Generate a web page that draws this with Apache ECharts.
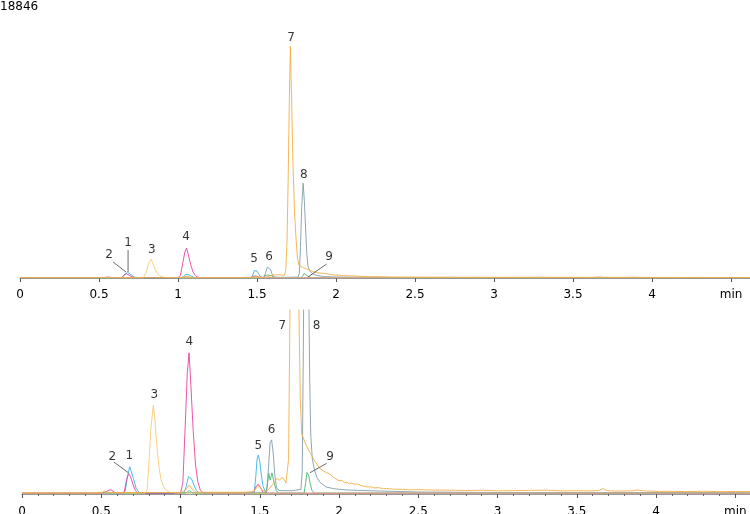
<!DOCTYPE html>
<html>
<head>
<meta charset="utf-8">
<script src="https://cdn.jsdelivr.net/npm/echarts@6/dist/echarts.min.js"></script>
<style>
html,body{margin:0;padding:0;background:#fff;}
#chart{width:750px;height:514px;}
</style>
</head>
<body>
<div id="chart"></div>
<script>
// ---- data (time in min, intensity in counts) ----
const yMaxLabel = '18846';
const xTickLabels = ['0','0.5','1','1.5','2','2.5','3','3.5','4','min'];

const traceMagenta = [[0,10],[0.50,10],[0.53,40],[0.56,75],[0.59,20],[0.63,15],[0.645,40],[0.66,250],[0.673,350],[0.685,300],[0.70,170],[0.715,60],[0.73,20],[0.80,12],[1.0,15],[1.015,200],[1.03,1200],[1.043,2100],[1.054,2440],[1.065,1900],[1.08,1100],[1.095,500],[1.11,200],[1.125,70],[1.14,25],[1.20,15],[1.40,15],[1.46,25],[1.475,120],[1.49,170],[1.505,110],[1.52,30],[1.55,15],[1.7,12],[2.0,12],[2.5,15],[3.0,18],[3.5,15],[4.0,18],[4.62,15]];

const traceCyan = [[0,8],[0.64,8],[0.652,60],[0.665,300],[0.68,470],[0.69,440],[0.705,250],[0.72,100],[0.74,20],[0.8,8],[1.02,8],[1.035,120],[1.05,300],[1.058,330],[1.07,260],[1.085,150],[1.10,60],[1.12,15],[1.4,10],[1.465,20],[1.475,300],[1.483,600],[1.491,675],[1.50,560],[1.51,330],[1.52,140],[1.535,40],[1.56,12],[4.62,10]];

const traceGrey = [[0,22],[1.0,22],[1.53,25],[1.545,80],[1.555,450],[1.565,880],[1.575,935],[1.585,700],[1.595,330],[1.605,120],[1.62,60],[1.70,55],[1.76,80],[1.768,400],[1.775,2500],[1.783,5800],[1.792,7700],[1.800,6200],[1.808,3900],[1.815,2000],[1.822,1000],[1.832,600],[1.845,420],[1.86,290],[1.88,200],[1.92,120],[1.97,90],[2.05,70],[2.2,55],[2.5,35],[3.0,25],[4.62,22]];

const traceGreen = [[0,10],[1.03,10],[1.055,60],[1.08,10],[1.54,10],[1.55,200],[1.557,355],[1.566,240],[1.577,365],[1.59,200],[1.605,60],[1.62,15],[1.78,15],[1.79,200],[1.798,370],[1.808,330],[1.818,180],[1.83,60],[1.845,15],[4.62,10]];

const traceYellow = [[0,15],[0.78,15],[0.79,80],[0.80,500],[0.812,1100],[0.828,1530],[0.838,1300],[0.85,850],[0.865,450],[0.88,220],[0.90,90],[0.93,30],[0.98,15],[4.62,15]];

const traceOrange = [[0,20],[0.50,20],[0.52,50],[0.54,25],[1.00,25],[1.03,60],[1.055,155],[1.075,80],[1.10,30],[1.40,30],[1.46,40],[1.48,110],[1.495,140],[1.51,80],[1.53,50],[1.55,60],[1.57,120],[1.59,200],[1.61,270],[1.625,240],[1.64,290],[1.655,250],[1.665,190],[1.672,200],[1.682,600],[1.690,3000],[1.697,8000],[1.704,14000],[1.711,18846],[1.719,14500],[1.728,9000],[1.738,5200],[1.748,3000],[1.756,1600],[1.765,1040],[1.78,930],[1.795,830],[1.806,815],[1.82,700],[1.84,600],[1.859,520],[1.88,440],[1.90,400],[1.92,370],[1.943,345],[1.96,300],[1.98,260],[2.0,230],[2.01,200],[2.02,235],[2.035,195],[2.05,205],[2.065,175],[2.08,190],[2.1,165],[2.115,175],[2.133,150],[2.15,140],[2.16,150],[2.18,120],[2.2,125],[2.22,105],[2.25,110],[2.28,90],[2.3,95],[2.35,82],[2.4,80],[2.45,72],[2.5,75],[2.6,68],[2.7,66],[2.8,60],[2.9,64],[3.0,55],[3.1,58],[3.2,62],[3.3,66],[3.4,55],[3.5,56],[3.6,54],[3.64,60],[3.666,95],[3.69,60],[3.75,50],[3.85,55],[3.88,70],[3.92,55],[4.0,45],[4.1,46],[4.2,42],[4.3,48],[4.4,40],[4.5,44],[4.62,40]];

// peak labels: [text, time, intensity]
const labelsTop = [['1',0.684,2845],['2',0.563,1870],['3',0.835,2276],['4',1.051,3332],['5',1.481,1544],['6',1.576,1707],['7',1.715,19507],['8',1.797,8372],['9',1.956,1707]];
const labelsBottom = [['2',0.570,645],['1',0.677,657],['3',0.835,1711],['4',1.056,2632],['5',1.491,829],['6',1.575,1106],['7',1.642,2903],['8',1.859,2903],['9',1.943,645]];
// leader lines: [[t1,v1],[t2,v2]]
const leadersTop = [[[0.684,2276],[0.684,488]],[[0.589,1300],[0.671,488]],[[1.941,1138],[1.825,106]]];
const leadersBottom = [[[0.580,553],[0.671,368]],[[1.922,530],[1.817,368]]];

const yMaxTop = 21540;
const yMaxBottom = 3180;
const xMaxTop = 4.62;
const xMaxBottom = 4.593;

// ---- chart ----
const FONT = 'DejaVu Sans';
const traces = [
  {data: traceGreen, color: '#3cb46a'},
  {data: traceCyan, color: '#2cb0e6'},
  {data: traceMagenta, color: '#e8379b'},
  {data: traceGrey, color: '#7d96a8'},
  {data: traceYellow, color: '#f7c96a'},
  {data: traceOrange, color: '#f2ab3c'}
];

function xAxisCfg(gi, max, margin, minor) {
  return {
    type: 'value', gridIndex: gi, min: 0, max: max, interval: 0.5,
    axisLine: {show: true, lineStyle: {color: '#9a9a9a', width: 1}},
    axisTick: {show: true, length: 4, lineStyle: {color: '#555'}},
    minorTick: {show: minor, splitNumber: 5, length: 2, lineStyle: {color: '#666'}},
    splitLine: {show: false},
    axisLabel: {
      margin: margin, color: '#000', fontFamily: FONT, fontSize: 12,
      formatter: function (v) {
        const k = Math.round(v / 0.5);
        if (Math.abs(v - k * 0.5) > 1e-6) return '';
        return xTickLabels[k] !== undefined ? xTickLabels[k] : '';
      }
    }
  };
}
function yAxisCfg(gi, max) {
  return {type: 'value', gridIndex: gi, min: 0, max: max, show: false, splitLine: {show: false}};
}

const series = [];
[0, 1].forEach(function (gi) {
  traces.forEach(function (tr) {
    series.push({
      type: 'line', xAxisIndex: gi, yAxisIndex: gi, data: tr.data,
      symbol: 'none', clip: true, silent: true,
      lineStyle: {color: tr.color, width: 1, opacity: 0.85}
    });
  });
  const leaders = gi === 0 ? leadersTop : leadersBottom;
  leaders.forEach(function (seg) {
    series.push({
      type: 'line', xAxisIndex: gi, yAxisIndex: gi, data: seg,
      symbol: 'none', silent: true, lineStyle: {color: '#444', width: 0.8}
    });
  });
  const labs = gi === 0 ? labelsTop : labelsBottom;
  series.push({
    type: 'scatter', xAxisIndex: gi, yAxisIndex: gi, clip: false, silent: true,
    symbol: 'circle', symbolSize: 1, itemStyle: {color: 'rgba(0,0,0,0)'},
    data: labs.map(function (l) { return [l[1], l[2], l[0]]; }),
    label: {
      show: true, position: 'inside', color: '#000', fontFamily: FONT, fontSize: 12,
      formatter: function (p) { return p.value[2]; }
    }
  });
});

const chart = echarts.init(document.getElementById('chart'), null, {renderer: 'canvas'});
chart.setOption({
  animation: false,
  backgroundColor: '#fff',
  title: {
    text: yMaxLabel, left: 0, top: 1, padding: 0,
    textStyle: {fontFamily: FONT, fontSize: 12, fontWeight: 'normal', color: '#000'}
  },
  grid: [
    {left: 20, width: 730, top: 13, height: 265, outerBoundsMode: 'none', containLabel: false},
    {left: 22, width: 728, top: 310, height: 184, outerBoundsMode: 'none', containLabel: false}
  ],
  xAxis: [xAxisCfg(0, xMaxTop, 11, false), xAxisCfg(1, xMaxBottom, 12, true)],
  yAxis: [yAxisCfg(0, yMaxTop), yAxisCfg(1, yMaxBottom)],
  series: series
});
</script>
</body>
</html>
